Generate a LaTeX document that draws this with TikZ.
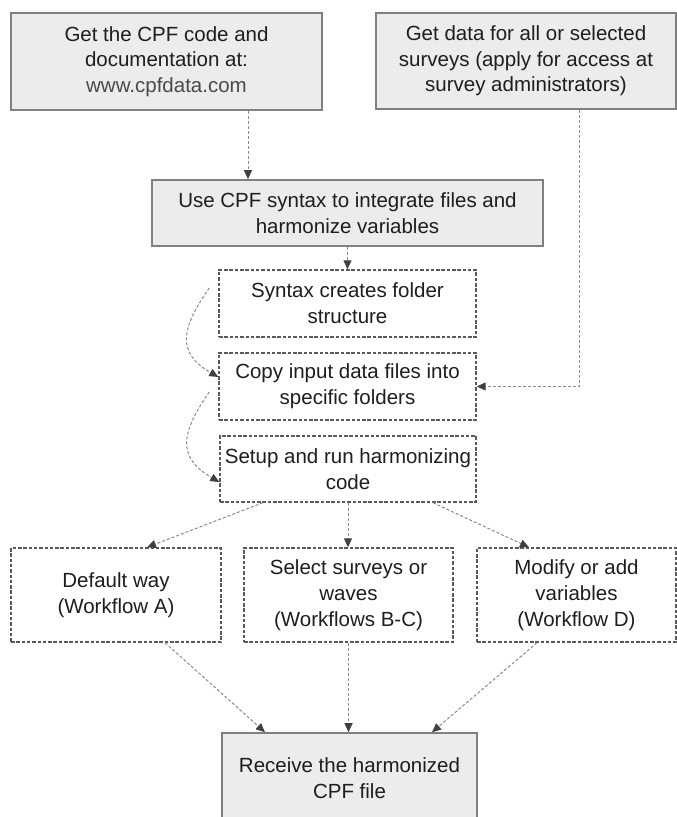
\documentclass[tikz,border=0pt]{standalone}
\usepackage{fontspec}
\setmainfont{Liberation Sans}
\usetikzlibrary{arrows.meta}
\definecolor{boxfill}{HTML}{ECECEC}
\definecolor{boxline}{HTML}{808080}
\definecolor{dashline}{HTML}{5A5A5A}
\definecolor{flowline}{HTML}{8A8A8A}
\definecolor{tipcol}{HTML}{404040}
\definecolor{txt}{HTML}{1E1E1E}
\definecolor{linktxt}{HTML}{4A4A4A}

\begin{document}
\begin{tikzpicture}[x=1pt,y=1pt,
  every node/.style={font=\fontsize{20.5}{25.7}\selectfont, text=txt, align=center, inner sep=0pt},
  mainbox/.style={draw=boxline, fill=boxfill, line width=1.6pt},
  stepbox/.style={draw=dashline, fill=white, line width=1.4pt, dash pattern=on 3.5pt off 1.8pt},
  flow/.style={draw=flowline, line width=1pt, dash pattern=on 3pt off 2pt,
    -{Triangle[length=9pt,width=8pt,color=tipcol]}}]
  \useasboundingbox (0,0) rectangle (677,817);
  % sources at the top
  \node[mainbox, minimum width=311pt, minimum height=97pt] (code) at (166.5,755.5)
    {Get the CPF code and\\documentation at:\\\textcolor{linktxt}{www.cpfdata.com}};
  \node[mainbox, minimum width=300pt, minimum height=96pt] (data) at (526,756)
    {Get data for all or selected\\surveys (apply for access at\\survey administrators)};
  \node[mainbox, minimum width=391pt, minimum height=66pt] (harm) at (347.5,604)
    {Use CPF syntax to integrate files and\\harmonize variables};
  % steps of the syntax
  \node[stepbox, minimum width=257pt, minimum height=67pt] (syntax) at (347.5,513.5)
    {Syntax creates folder\\structure};
  \node[stepbox, minimum width=257pt, minimum height=67pt] (copy) at (347.5,430.5)
    {Copy input data files into\\specific folders};
  \node[stepbox, minimum width=256pt, minimum height=66pt] (setup) at (348,348)
    {Setup and run harmonizing\\code};
  % the three workflows
  \node[stepbox, minimum width=210pt, minimum height=94pt] (wayA) at (116,222)
    {Default way\\(Workflow A)};
  \node[stepbox, minimum width=209pt, minimum height=94pt] (wayB) at (348.5,222)
    {Select surveys or\\waves\\(Workflows B-C)};
  \node[stepbox, minimum width=199pt, minimum height=94pt] (wayD) at (576.5,222)
    {Modify or add\\variables\\(Workflow D)};
  % result
  \node[mainbox, minimum width=255pt, minimum height=90pt] (recv) at (349.5,39)
    {Receive the harmonized\\CPF file};
  % connectors
  \draw[flow] ([xshift=81.5pt]code.south) -- ([xshift=-99.5pt]harm.north);
  \draw[flow] ([xshift=53pt]data.south) |- (copy.east);
  \draw[flow] (harm.south) -- (syntax.north);
  \draw[flow] ([shift={(-9pt,15.5pt)}]syntax.west) to[out=235,in=150,looseness=1.4] ([yshift=9.5pt]copy.west);
  \draw[flow] ([shift={(-9pt,-5.5pt)}]copy.west) to[out=235,in=150,looseness=1.4] ([yshift=-13pt]setup.west);
  \draw[flow] ([xshift=-85pt]setup.south) -- ([xshift=31pt]wayA.north);
  \draw[flow] (setup.south) -- (setup.south |- wayB.north);
  \draw[flow] ([xshift=85pt]setup.south) -- ([xshift=-47.5pt]wayD.north);
  \draw[flow] ([xshift=49pt]wayA.south) -- ([xshift=-84.5pt]recv.north);
  \draw[flow] (wayB.south) -- (wayB.south |- recv.north);
  \draw[flow] ([xshift=-39.5pt]wayD.south) -- ([xshift=82.5pt]recv.north);
\end{tikzpicture}
\end{document}
